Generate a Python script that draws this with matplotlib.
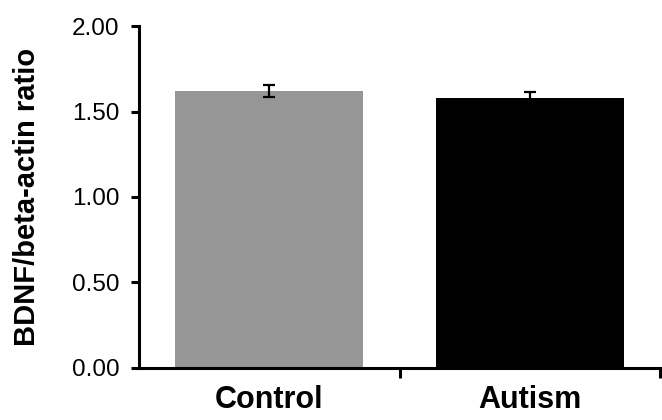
import numpy as np
import matplotlib.pyplot as plt

# values
groups = ["Control", "Autism"]
ratios = [1.62, 1.58]
sem = [0.035, 0.035]
bar_colors = ["#969696", "#000000"]
yticks = [0.0, 0.5, 1.0, 1.5, 2.0]

plt.rcParams["font.family"] = ["Liberation Sans", "DejaVu Sans"]

fig = plt.figure(figsize=(6.62, 4.2), dpi=100)
ax = fig.add_axes([0.21, 0.124, 0.787, 0.814])

x = np.arange(len(groups))
ax.bar(x, ratios, width=0.72, color=bar_colors, zorder=2)
ax.errorbar(x, ratios, yerr=sem, fmt="none", ecolor="black",
            elinewidth=1.6, capsize=4.5, capthick=1.6, zorder=3)

ax.set_xlim(-0.5, 1.5)
ax.set_ylim(0, 2.0)
ax.set_yticks(yticks)
ax.set_yticklabels([f"{v:.2f}" for v in yticks], fontsize=17.5)

# category labels sit between the tick marks
ax.set_xticks([0.5, 1.5])
ax.set_xticklabels([])
ax.set_xticks(x, minor=True)
ax.set_xticklabels(groups, minor=True, fontsize=22, fontweight="bold")
ax.tick_params(axis="x", which="minor", length=0, pad=12)
ax.tick_params(axis="x", which="major", direction="out", length=7, width=2.2)
ax.tick_params(axis="y", direction="out", length=6, width=2.2, pad=8)

ax.set_ylabel("BDNF/beta-actin ratio", fontsize=21, fontweight="bold", labelpad=22)

for side in ["top", "right"]:
    ax.spines[side].set_visible(False)
for side in ["left", "bottom"]:
    ax.spines[side].set_linewidth(2.2)

fig.savefig("out.png", dpi=100)
